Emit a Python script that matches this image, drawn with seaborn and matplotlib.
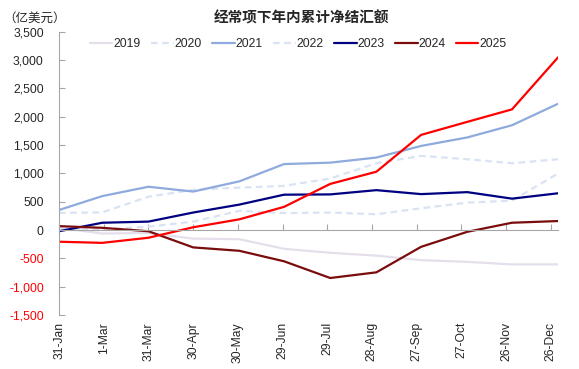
import pandas as pd
import matplotlib.pyplot as plt
import seaborn as sns

# month-end dates (a leap year, so the 30-day ticks read 1-Mar, 31-Mar ...)
months = ["2024-01-31", "2024-02-29", "2024-03-31", "2024-04-30",
          "2024-05-31", "2024-06-30", "2024-07-31", "2024-08-31",
          "2024-09-30", "2024-10-31", "2024-11-30", "2024-12-31"]

years = ["2019", "2020", "2021", "2022", "2023", "2024", "2025"]

v2019 = [40, -60, -50, -150, -160, -330, -400, -450, -530, -560, -605, -605]
v2020 = [305, 312, 590, 710, 750, 780, 910, 1180, 1310, 1250, 1180, 1250]
v2021 = [355, 600, 765, 680, 860, 1165, 1190, 1280, 1485, 1635, 1850, 2230]
v2022 = [20, 10, 60, 150, 340, 300, 310, 280, 385, 485, 520, 1000]
v2023 = [-20, 130, 150, 310, 450, 625, 630, 705, 635, 670, 555, 650]
v2024 = [70, 40, -20, -305, -365, -550, -845, -745, -295, -30, 130, 160]
v2025 = [-205, -225, -135, 50, 190, 410, 815, 1030, 1680, 1910, 2130, 3050]

yticks = [-1500, -1000, -500, 0, 500, 1000, 1500, 2000, 2500, 3000, 3500]

colors = {"2019": "#E4DFEB", "2020": "#D9E3F3", "2021": "#8FAADC",
          "2022": "#D9E3F3", "2023": "#000080", "2024": "#7B0C0C",
          "2025": "#FF0000"}
dashes = {"2019": "", "2020": (3, 2), "2021": "", "2022": (3, 2),
          "2023": "", "2024": "", "2025": ""}

series = [v2019, v2020, v2021, v2022, v2023, v2024, v2025]
rows = []
for yr, vals in zip(years, series):
    for d, v in zip(months, vals):
        rows.append({"date": pd.Timestamp(d), "value": v, "year": yr})
df = pd.DataFrame(rows)

sns.set_style("white")
plt.rcParams["font.family"] = ["Liberation Sans", "Noto Sans CJK SC"]

fig = plt.figure(figsize=(5.79, 3.69), dpi=100)
ax = fig.add_axes([0.102, 0.146, 0.862, 0.768])

sns.lineplot(data=df, x="date", y="value", hue="year", style="year",
             palette=colors, dashes=dashes, linewidth=1.6, ax=ax,
             legend=True)

ax.set_ylim(-1500, 3500)
ax.set_xlim(pd.Timestamp(months[0]), pd.Timestamp(months[-1]))
ax.set_yticks(yticks)
ax.set_yticklabels([f"{t:,}" for t in yticks], fontsize=8.7)
for lab, t in zip(ax.get_yticklabels(), yticks):
    if t < 0:
        lab.set_color("#FF0000")
ax.tick_params(axis="y", direction="in", length=4, color="#A6A6A6",
               pad=11, left=True)
ax.set_xlabel("")
ax.set_ylabel("")

for s in ["top", "right"]:
    ax.spines[s].set_visible(False)
ax.spines["left"].set_color("#A6A6A6")
ax.spines["bottom"].set_color("#A6A6A6")
ax.spines["bottom"].set_position(("data", 0))

# ticks every 30 days on the zero line, labels at the bottom
xt = pd.date_range(months[0], periods=12, freq="30D")
ax.set_xticks(xt)
ax.set_xticklabels([])
ax.tick_params(axis="x", direction="in", length=4, color="#A6A6A6",
               bottom=True)

sec = ax.secondary_xaxis(0.0)
sec.set_xticks(xt)
sec.set_xticklabels([d.strftime("%-d-%b") for d in xt], rotation=90,
                    fontsize=8.7)
sec.tick_params(length=0, pad=5)
sec.spines["bottom"].set_visible(False)

handles, labels = ax.get_legend_handles_labels()
ax.legend(handles, labels, ncol=7, frameon=False, fontsize=8.7,
          loc="center", bbox_to_anchor=(0.515, 0.88),
          bbox_transform=fig.transFigure, handlelength=1.9,
          handletextpad=0.1, columnspacing=0.8)

fig.text(0.52, 0.95, "经常项下年内累计净结汇额", ha="center", va="center",
         fontsize=10.5, fontweight="bold")
fig.text(0.005, 0.95, "（亿美元）", ha="left", va="center", fontsize=9,
         family=["Noto Sans CJK SC", "DejaVu Sans"])

fig.savefig("out.png", dpi=100)
